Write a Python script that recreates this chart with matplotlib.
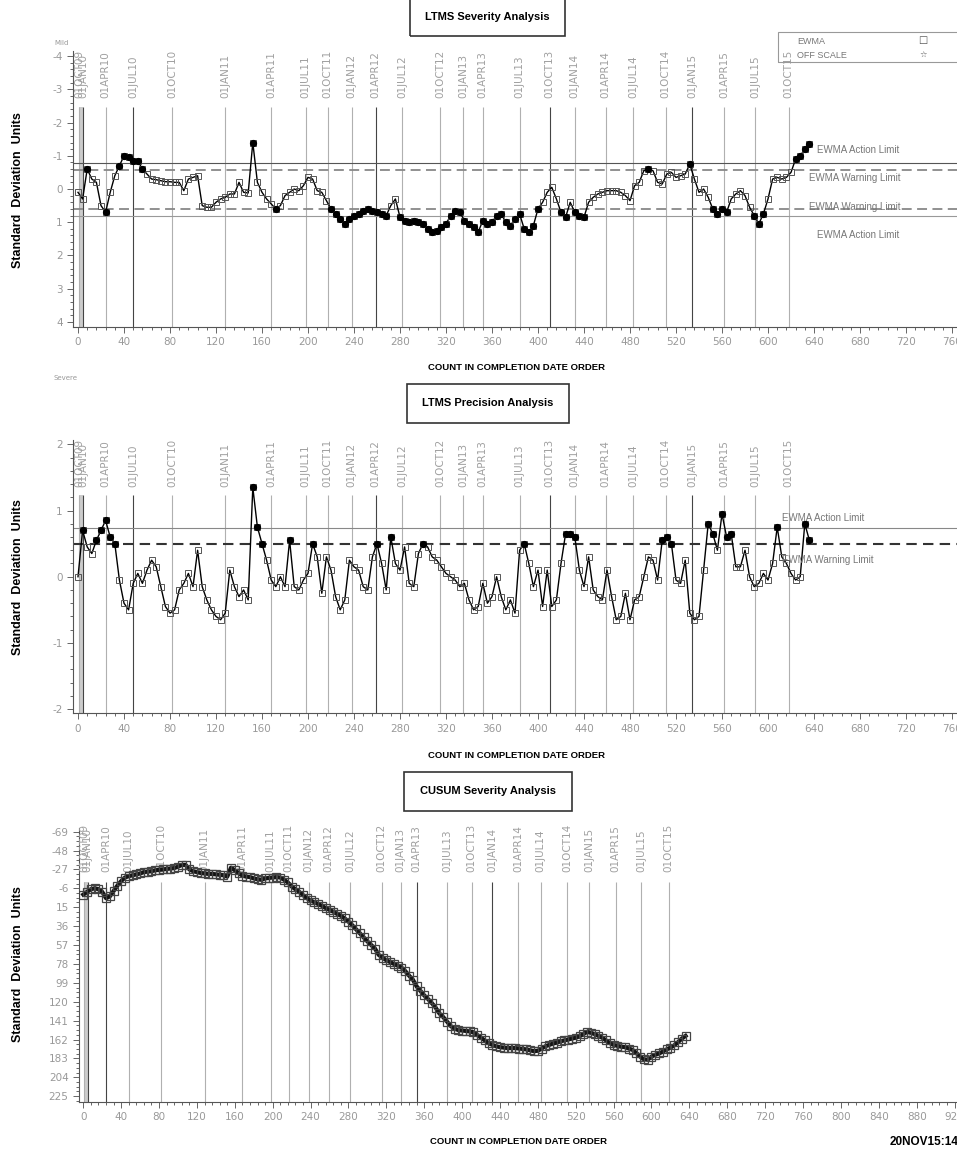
import numpy as np
import matplotlib
matplotlib.use("Agg")
import matplotlib.pyplot as plt
from matplotlib.patches import Rectangle
from matplotlib.ticker import AutoMinorLocator

plt.rcParams["axes.unicode_minus"] = False

W, H = 957, 1151
NARROW = ["Liberation Sans Narrow", "Liberation Sans", "DejaVu Sans"]

# test count (every 4th run)
counts = np.arange(0, 637, 4)

severity = [
    0.1, 0.3, -0.6, -0.3, -0.2, 0.5, 0.7, 0.1, -0.4, -0.7,
    -1.0, -0.95, -0.85, -0.85, -0.6, -0.45, -0.3, -0.28, -0.25, -0.22,
    -0.22, -0.2, -0.2, 0.05, -0.3, -0.35, -0.4, 0.5, 0.55, 0.55,
    0.4, 0.3, 0.25, 0.15, 0.15, -0.2, 0.1, 0.12, -1.4, -0.2,
    0.1, 0.3, 0.45, 0.6, 0.5, 0.2, 0.1, 0.0, 0.05, -0.1,
    -0.35, -0.3, 0.05, 0.1, 0.35, 0.6, 0.75, 0.9, 1.05, 0.9,
    0.8, 0.75, 0.65, 0.6, 0.65, 0.7, 0.75, 0.8, 0.5, 0.3,
    0.85, 0.95, 1.0, 0.95, 1.0, 1.05, 1.2, 1.3, 1.25, 1.15,
    1.05, 0.8, 0.65, 0.7, 0.95, 1.05, 1.15, 1.3, 0.95, 1.05,
    1.0, 0.8, 0.75, 1.0, 1.1, 0.9, 0.75, 1.2, 1.3, 1.1,
    0.6, 0.4, 0.1, -0.05, 0.3, 0.7, 0.85, 0.4, 0.7, 0.8,
    0.85, 0.4, 0.25, 0.15, 0.1, 0.05, 0.05, 0.05, 0.1, 0.2,
    0.35, -0.1, -0.2, -0.55, -0.6, -0.55, -0.2, -0.15, -0.45, -0.5,
    -0.35, -0.4, -0.45, -0.75, -0.3, 0.1, 0.0, 0.25, 0.6, 0.75,
    0.6, 0.7, 0.3, 0.15, 0.05, 0.2, 0.55, 0.8, 1.05, 0.75,
    0.3, -0.3, -0.35, -0.3, -0.35, -0.5, -0.9, -1.0, -1.2, -1.35,
]

precision = [
    0.0, 0.7, 0.45, 0.35, 0.55, 0.7, 0.85, 0.6, 0.5, -0.05,
    -0.4, -0.5, -0.1, 0.05, -0.1, 0.1, 0.25, 0.15, -0.15, -0.45,
    -0.55, -0.5, -0.2, -0.1, 0.05, -0.15, 0.4, -0.15, -0.35, -0.5,
    -0.6, -0.65, -0.55, 0.1, -0.15, -0.3, -0.2, -0.35, 1.35, 0.75,
    0.5, 0.25, -0.05, -0.15, 0.0, -0.15, 0.55, -0.15, -0.2, -0.05,
    0.05, 0.5, 0.3, -0.25, 0.3, 0.1, -0.3, -0.5, -0.35, 0.25,
    0.15, 0.1, -0.15, -0.2, 0.3, 0.5, 0.2, -0.2, 0.6, 0.2,
    0.1, 0.45, -0.1, -0.15, 0.35, 0.5, 0.45, 0.3, 0.25, 0.15,
    0.05, 0.0, -0.05, -0.15, -0.1, -0.35, -0.5, -0.45, -0.1, -0.4,
    -0.3, 0.0, -0.3, -0.5, -0.35, -0.55, 0.4, 0.5, 0.2, -0.15,
    0.1, -0.45, 0.1, -0.45, -0.35, 0.2, 0.65, 0.65, 0.6, 0.1,
    -0.15, 0.3, -0.2, -0.3, -0.35, 0.1, -0.3, -0.65, -0.6, -0.25,
    -0.65, -0.35, -0.3, 0.0, 0.3, 0.25, -0.05, 0.55, 0.6, 0.5,
    -0.05, -0.1, 0.25, -0.55, -0.65, -0.6, 0.1, 0.8, 0.65, 0.4,
    0.95, 0.6, 0.65, 0.15, 0.15, 0.4, 0.0, -0.15, -0.1, 0.05,
    -0.05, 0.2, 0.75, 0.3, 0.2, 0.05, -0.05, 0.0, 0.8, 0.55,
]

cusum = [
    1, -2, -5, -6, -5, -2, 5, 3, -3, -9,
    -14, -18, -19.5, -20.5, -21.5, -22.5, -24, -24.5, -25, -26,
    -26.5, -27, -27.5, -28, -28.5, -30, -32, -32, -27, -25,
    -24, -23, -22.5, -22, -22, -21.5, -21, -20.5, -19, -29,
    -26, -23, -20, -19, -18.5, -17, -16, -15.5, -17, -17.5,
    -18, -18.5, -18, -15.5, -12.5, -8, -5, -2, 1.5, 5,
    7.5, 9.5, 11.5, 13.5, 16, 18, 20, 22.5, 24.5, 27.5,
    31, 35, 39.5, 44, 48.5, 53, 57, 61, 68, 71,
    74, 76, 78, 80, 82, 86, 91, 95.5, 103, 108,
    113, 117, 121.5, 126.5, 133, 137, 142, 147, 150, 151.5,
    152, 152.5, 153, 154, 157, 160, 163, 166, 168, 169.5,
    170.5, 171, 171.5, 171.5, 171.5, 172, 172.5, 173, 174, 175,
    174.5, 172, 169.5, 168, 166.5, 165.5, 164, 163, 162, 161,
    160, 158.5, 156, 153.5, 154.5, 156, 158, 160, 163, 166,
    168, 169, 170, 170.5, 172, 173.5, 177, 181, 184, 184.5,
    181, 179, 177.5, 175.5, 173, 171, 168.5, 165, 161, 158,
]

date_labels = ["01OCT09", "01JAN10", "01APR10", "01JUL10", "01OCT10", "01JAN11",
               "01APR11", "01JUL11", "01OCT11", "01JAN12", "01APR12", "01JUL12",
               "01OCT12", "01JAN13", "01APR13", "01JUL13", "01OCT13", "01JAN14",
               "01APR14", "01JUL14", "01OCT14", "01JAN15", "01APR15", "01JUL15",
               "01OCT15"]
date_counts = [1, 4.6, 24, 48, 82, 128, 168, 198, 217, 238, 259, 282,
               315, 335, 352, 384, 410, 432, 459, 483, 511, 534, 562, 589, 618]

sev_limits = {"action": (-0.77, 0.8), "warning": (-0.57, 0.6)}
prec_limits = {"action": 0.73, "warning": 0.49}

counts = np.asarray(counts)
severity = np.asarray(severity)
precision = np.asarray(precision)
cusum = np.asarray(cusum)

fig = plt.figure(figsize=(W / 100, H / 100), dpi=100)


def px_axes(left, right, top, bottom):
    return fig.add_axes([left / W, 1 - bottom / H, (right - left) / W, (bottom - top) / H])


def ftext(x, y, s, **kw):
    fig.text(x / W, 1 - y / H, s, **kw)


def fbox(x0, x1, y0, y1, **kw):
    fig.add_artist(Rectangle((x0 / W, 1 - y1 / H), (x1 - x0) / W, (y1 - y0) / H,
                             transform=fig.transFigure, fill=False, **kw))


def style(ax, xmax, yticks, yminor):
    for s in ("top", "right"):
        ax.spines[s].set_visible(False)
    for s in ("left", "bottom"):
        ax.spines[s].set_color("#555")
        ax.spines[s].set_linewidth(0.8)
    ax.set_xticks(range(0, xmax + 1, 40))
    ax.xaxis.set_minor_locator(AutoMinorLocator(5))
    ax.set_yticks(yticks)
    ax.yaxis.set_minor_locator(AutoMinorLocator(yminor))
    ax.tick_params(which="both", direction="out", colors="#666",
                   labelcolor="#999", labelsize=7.5, width=0.7)
    ax.tick_params(which="major", length=4)
    ax.tick_params(which="minor", length=2)


def date_lines(ax, y0, y1, ytext, dark):
    ax.fill_betweenx([y0, y1], 0.8, 4.6, color="#cccccc", lw=0, zorder=1)
    for lab, c in zip(date_labels, date_counts):
        col = "#444" if (lab in dark or c == 4.6) else "#b0b0b0"
        ax.vlines(c, y0, y1, color=col, lw=0.8, zorder=1)
        ax.text(c, ytext, lab, rotation=90, ha="center", va="bottom",
                fontsize=7.5, color="#a0a0a0", clip_on=False)


def ewma(ax, vals, mask):
    ax.plot(counts, vals, color="black", lw=1.0, marker="s", ms=5,
            mfc="none", mec="#555", mew=0.7, zorder=3)
    ax.plot(counts[mask], vals[mask], "o", color="black", ms=4.2, zorder=4)


# ---- panel 1: severity EWMA
ax1 = px_axes(73, 963.5, 51.2, 326.8)
ax1.set_xlim(-4.35, 770)
ax1.set_ylim(4.15, -4.15)
style(ax1, 760, range(-4, 5), 5)
date_lines(ax1, 4.15, -2.47, -2.74, ["01JUL10", "01APR12", "01OCT13", "01JAN15"])
ax1.hlines(sev_limits["action"][0], -4.35, 770, color="#555", lw=0.8, zorder=2)
ax1.hlines(sev_limits["action"][1], -4.35, 770, color="#999", lw=0.8, zorder=2)
ax1.hlines(sev_limits["warning"], -4.35, 770, colors="#888", lw=1.3,
           linestyles=[(0, (5.5, 3))], zorder=2)
sev_mask = (severity <= sev_limits["warning"][0]) | (severity >= sev_limits["warning"][1])
ewma(ax1, severity, sev_mask)
lim_kw = dict(fontsize=7, color="#777", ha="left", va="center", family=NARROW, clip_on=False)
ax1.text(642.6, -1.17, "EWMA Action Limit", **lim_kw)
ax1.text(635.7, -0.33, "EWMA Warning Limit", **lim_kw)
ax1.text(635.7, 0.54, "EWMA Warning Limit", **lim_kw)
ax1.text(642.6, 1.39, "EWMA Action Limit", **lim_kw)

# ---- panel 2: precision EWMA
ax2 = px_axes(73, 963.5, 439.7, 713.1)
ax2.set_xlim(-4.35, 770)
ax2.set_ylim(-2.06, 2.07)
style(ax2, 760, range(-2, 3), 5)
date_lines(ax2, -2.06, 1.234, 1.355, ["01JUL10", "01APR12", "01OCT13", "01JAN15"])
ax2.hlines(prec_limits["action"], -4.35, 770, color="#888", lw=0.8, zorder=2)
ax2.hlines(prec_limits["warning"], -4.35, 770, color="#333", lw=1.5,
           linestyles=[(0, (5, 3))], zorder=2)
ewma(ax2, precision, precision >= prec_limits["warning"])
ax2.text(612, 0.887, "EWMA Action Limit", **lim_kw)
ax2.text(612, 0.25, "EWMA Warning Limit", **lim_kw)

# ---- panel 3: CUSUM
ax3 = px_axes(79, 964, 828, 1101.7)
ax3.set_xlim(-4.54, 930)
ax3.set_ylim(231.1, -73)
style(ax3, 920, range(-69, 226, 21), 4)
date_lines(ax3, 231.1, -13.3, -24.4, ["01APR10", "01APR13", "01JAN14"])
ax3.plot(counts, cusum, color="#111", lw=3.0, marker="s", ms=5.2,
         mfc="none", mec="#444", mew=0.9, zorder=3)

# ---- titles, axis labels, annotations
title_kw = dict(fontsize=8, fontweight="bold", ha="center", va="center", family=NARROW)
for (x0, x1, y0, y1), t in zip([(410, 565, -2, 36), (407, 569, 384, 423), (404, 572, 772, 811)],
                               ["LTMS Severity Analysis", "LTMS Precision Analysis",
                                "CUSUM Severity Analysis"]):
    fbox(x0, x1, y0, y1, ec="#333", lw=1.2)
    ftext((x0 + x1) / 2, (y0 + y1) / 2, t, **title_kw)

xl_kw = dict(fontsize=6.8, fontweight="bold", ha="center", va="center", family=NARROW)
for x, y in [(516, 368), (516, 755), (519, 1142)]:
    ftext(x, y, "COUNT IN COMPLETION DATE ORDER", **xl_kw)

for y in [190, 577, 964]:
    ftext(18, y, "Standard  Deviation  Units", rotation=90, fontsize=9,
          fontweight="bold", ha="center", va="center", family=["Liberation Sans", "DejaVu Sans"])

ftext(62, 43, "Mild", fontsize=5, color="#999", ha="center", va="center")
ftext(53, 378, "Severe", fontsize=5, color="#999", ha="left", va="center")
ftext(890, 1142, "20NOV15:14:", fontsize=8.5, fontweight="bold", ha="left",
      va="center", family=NARROW)

# legend box
fbox(778, 965, 32, 62, ec="#999", lw=0.8)
ftext(797, 41, "EWMA", fontsize=6.5, color="#777", ha="left", va="center", family=NARROW)
ftext(797, 56, "OFF SCALE", fontsize=6.5, color="#777", ha="left", va="center", family=NARROW)
ftext(923, 40, "\u25a1", fontsize=7, color="#555", ha="center", va="center")
ftext(923, 55, "\u2606", fontsize=6, color="#555", ha="center", va="center")

fig.savefig("out.png", dpi=100, facecolor="white")
